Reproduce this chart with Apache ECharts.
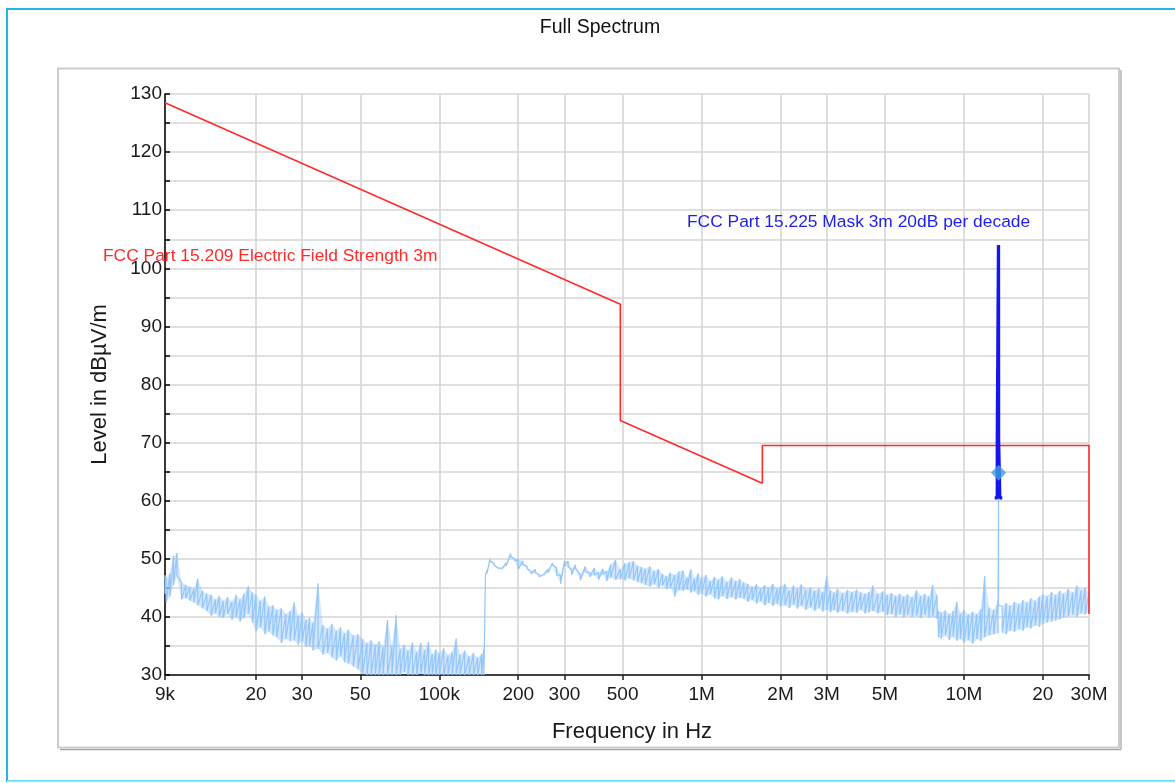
<!DOCTYPE html>
<html>
<head>
<meta charset="utf-8">
<title>Full Spectrum</title>
<script src="https://cdn.jsdelivr.net/npm/echarts@6/dist/echarts.min.js"></script>
<style>
  html, body { margin: 0; padding: 0; background: #ffffff; }
  #chart { width: 1175px; height: 783px; }
</style>
</head>
<body>
<div id="chart"></div>
<script>
// Frequency axis ticks (Hz) and their printed labels
const tickHz = [9e3, 2e4, 3e4, 5e4, 1e5, 2e5, 3e5, 5e5, 1e6, 2e6, 3e6, 5e6, 1e7, 2e7, 3e7];
const tickText = ['9k', '20', '30', '50', '100k', '200', '300', '500', '1M', '2M', '3M', '5M', '10M', '20', '30M'];

// FCC Part 15.209 limit line, 3 m (Hz / dBµV/m)
const limitHz = [9e3, 490e3, 490e3, 1.705e6, 1.705e6, 30e6, 30e6];
const limitDb = [128.5, 93.8, 73.8, 63.0, 69.5, 69.5, 40.5];

// FCC Part 15.225 mask around 13.56 MHz, 3 m (Hz / dBµV/m)
const maskHz = [13.11e6, 13.41e6, 13.41e6, 13.553e6, 13.553e6, 13.567e6, 13.567e6, 13.71e6, 13.71e6, 14.01e6];
const maskDb = [60.5, 60.5, 70.5, 70.5, 104.0, 104.0, 70.5, 70.5, 60.5, 60.5];

// Carrier marker
const markerHz = 13.56e6;
const markerDb = 64.8;

// Measured spectrum: frequency (kHz) with peak / floor level of each bin (dBµV/m)
const specKHz = [
  9.0, 9.1, 9.4, 9.7,
  10, 10.4, 10.8, 11.2, 11.6, 12, 12.5, 13, 13.5, 14, 14.5, 15, 15.6, 16.2, 16.8, 17.4, 18, 18.7, 19.4, 20,
  20.8, 21.6, 22.4, 23.2, 24, 25, 26, 27, 28, 29, 30,
  31, 32, 33, 34.5, 36, 37.5, 39, 40.5, 42, 43.5, 45, 47, 49,
  51, 53, 55, 57, 59, 61, 63.5, 66, 68.5, 71, 73.5, 76, 79, 82, 85, 88, 91, 94, 97,
  100, 104, 108, 112, 116, 120, 125, 130, 135, 140, 145, 148,
  150, 152, 156, 162, 168, 174, 180, 187, 194,
  200, 208, 216, 224, 232, 240, 250, 260, 270, 280, 290,
  300, 310, 320, 330, 345, 360, 375, 390, 405, 420, 435, 450, 470, 490,
  510, 530, 550, 570, 590, 610, 635, 660, 685, 710, 735, 760, 790, 820, 850, 880, 910, 940, 970,
  1000, 1040, 1080, 1120, 1160, 1200, 1250, 1300, 1350, 1400, 1450, 1500, 1560, 1620, 1680, 1740, 1800, 1870, 1940,
  2000, 2080, 2160, 2240, 2320, 2400, 2500, 2600, 2700, 2800, 2900,
  3000, 3100, 3200, 3300, 3450, 3600, 3750, 3900, 4050, 4200, 4350, 4500, 4700, 4900,
  5100, 5300, 5500, 5700, 5900, 6100, 6350, 6600, 6850, 7100, 7350, 7600, 7900,
  8000, 8200, 8500, 8800, 9100, 9400, 9700,
  10000, 10400, 10800, 11200, 11600, 12000, 12500, 13000, 13500, 13560, 14000, 14500, 15000, 15600, 16200, 16800, 17400, 18000, 18700, 19400,
  20000, 20800, 21600, 22400, 23200, 24000, 25000, 26000, 27000, 28000, 29000, 30000
];
const specMax = [
  47.2, 46.8, 47.5, 50.5,
  51.0, 46.0, 45.5, 45.2, 44.8, 46.6, 44.5, 44.0, 43.8, 43.0, 43.6, 42.8, 43.4, 42.6, 43.8, 43.0, 44.0, 45.3, 44.2, 43.8,
  42.8, 43.5, 41.8, 42.0, 41.2, 41.5, 40.5, 41.0, 42.5, 40.2, 40.8,
  39.5, 39.8, 39.0, 45.8, 38.6, 38.0, 38.8, 37.6, 38.2, 37.2, 37.8, 36.8, 37.0,
  36.2, 35.5, 36.0, 35.2, 35.8, 34.8, 39.5, 35.0, 40.3, 34.5, 35.2, 34.2, 35.6, 34.0, 35.5, 34.3, 35.7, 33.6, 34.4,
  33.8, 34.6, 33.4, 34.0, 36.3, 33.5, 34.2, 33.2, 33.8, 33.0, 33.6, 34.5,
  47.3, 48.0, 50.0, 49.2, 48.4, 48.4, 49.3, 50.9, 50.0,
  49.9, 49.6, 48.7, 47.8, 48.2, 47.3, 47.3, 48.2, 49.3, 48.5, 47.2,
  49.6, 49.6, 48.2, 49.0, 47.3, 48.7, 47.6, 48.4, 47.6, 48.3, 47.8, 49.0, 49.8, 48.2,
  49.2, 49.4, 49.6, 48.8, 48.6, 48.3, 48.7, 47.9, 48.2, 47.4, 47.0, 47.6, 47.2, 47.8, 48.0, 46.8, 48.2, 46.6, 47.5,
  46.8, 47.2, 46.2, 46.9, 46.4, 47.0, 46.0, 46.8, 46.2, 46.5, 45.9, 45.7, 45.2, 45.6, 44.9, 45.5, 45.0, 45.7, 44.8,
  45.3, 45.7, 44.6, 45.4, 44.8, 45.6, 44.7, 45.0, 44.5, 44.9, 44.3,
  47.0, 44.6, 44.2, 44.8, 44.1, 44.6, 44.3, 44.7, 44.2, 44.0, 44.3, 45.4, 44.0, 44.4,
  43.8, 44.1, 43.6, 44.0, 43.5, 43.9, 43.4, 44.6, 43.6, 44.0, 43.5, 45.5, 43.8,
  41.0, 40.8, 41.1, 40.5, 41.0, 42.6, 40.6,
  41.2, 40.4, 40.9, 40.5, 41.4, 47.0, 41.6, 41.2, 42.8, 64.8, 41.8, 42.4, 41.9, 42.6, 42.2, 42.9, 42.5, 43.2, 42.8, 43.5,
  43.9, 43.6, 44.3, 43.8, 44.5, 44.0, 44.8, 44.2, 45.4, 44.6, 45.0, 44.2
];
const specMin = [
  44.0, 42.5, 43.5, 45.5,
  47.0, 43.0, 43.2, 42.8, 42.5, 42.0, 41.5, 41.0, 40.2, 40.6, 40.0, 39.8, 40.5, 39.5, 40.0, 39.2, 39.8, 40.5, 39.0, 37.5,
  38.2, 37.0, 37.5, 36.8, 36.5, 35.5, 36.2, 35.8, 36.0, 35.2, 35.8,
  34.8, 35.0, 34.2, 34.5, 33.5, 33.8, 33.0, 32.5, 33.2, 32.2, 32.0, 31.5, 31.0,
  30.2, 30.0, 30.0, 30.0, 30.0, 30.0, 30.0, 30.0, 30.0, 30.0, 30.5, 30.0, 30.0, 30.0, 30.2, 30.0, 30.0, 30.0, 30.0,
  30.0, 30.0, 30.0, 30.0, 30.0, 30.0, 30.0, 30.0, 30.0, 30.0, 30.0, 30.0,
  47.3, 47.5, 49.6, 48.8, 48.2, 48.1, 48.8, 50.3, 49.6,
  48.2, 49.0, 48.3, 47.4, 47.6, 46.9, 47.0, 47.6, 48.9, 47.2, 45.7,
  48.8, 48.6, 47.2, 48.3, 46.3, 47.8, 46.9, 47.2, 46.4, 47.4, 46.2, 46.8, 46.4, 46.5,
  46.3, 46.6, 46.3, 46.0, 45.8, 45.5, 45.2, 45.6, 45.0, 45.4, 44.8, 45.0, 43.5, 44.6, 44.5, 44.7, 44.2, 44.4, 43.8,
  44.0, 43.5, 43.9, 43.2, 43.0, 43.6, 43.1, 43.4, 43.0, 43.3, 43.1, 42.6, 42.9, 42.3, 42.7, 42.0, 42.4, 41.9, 42.2,
  41.8, 42.0, 41.5, 42.1, 41.4, 41.9, 41.2, 41.6, 41.0, 41.5, 40.9,
  41.3, 40.8, 41.2, 40.7, 41.0, 40.6, 40.9, 40.7, 41.2, 40.6, 40.8, 41.0, 40.6, 40.9,
  40.3, 40.5, 40.0, 40.4, 39.9, 40.3, 40.0, 40.2, 39.8, 40.3, 39.9, 40.1, 39.7,
  36.5, 36.3, 36.8, 36.0, 36.6, 35.9, 36.2,
  35.6, 36.0, 35.4, 36.2, 35.8, 36.5, 36.8, 37.0, 37.2, 42.0, 37.3, 37.0, 37.6, 37.4, 37.9, 37.6, 38.2, 38.0, 38.5, 38.3,
  38.8, 39.0, 39.2, 39.4, 39.6, 39.9, 40.1, 40.3, 40.0, 40.6, 40.4, 40.8
];

// The frequency axis is a decade scale: positions are log10(Hz)
const lg = Math.log10;
const tickPos = tickHz.map(lg);

const nBins = Math.min(specKHz.length, specMax.length, specMin.length);
const traceData = [];   // sweep trace drawn bin by bin, peak then floor
const bandData = [];    // envelope cells between neighbouring bins: [x0, max0, min0, x1, max1, min1]
for (let i = 0; i < nBins; i++) {
  const x = lg(specKHz[i] * 1e3);
  traceData.push([x, specMax[i]]);
  traceData.push([x, specMin[i]]);
}
for (let i = 0; i + 1 < nBins; i++) {
  // the carrier spike stays a single trace line
  if (specKHz[i] === 13560 || specKHz[i + 1] === 13560) continue;
  bandData.push([lg(specKHz[i] * 1e3), specMax[i], specMin[i],
                 lg(specKHz[i + 1] * 1e3), specMax[i + 1], specMin[i + 1]]);
}
const limitData = limitHz.map((f, i) => [lg(f), limitDb[i]]);
const maskData = maskHz.map((f, i) => [lg(f), maskDb[i]]);

const FONT = '"Liberation Sans", Arial, Helvetica, sans-serif';
const gridColor = '#d6d6d6';
const traceColor = '#94c6fa';

function renderBand(params, api) {
  const p0t = api.coord([api.value(0), api.value(1)]);
  const p0b = api.coord([api.value(0), api.value(2)]);
  const p1t = api.coord([api.value(3), api.value(4)]);
  const p1b = api.coord([api.value(3), api.value(5)]);
  return {
    type: 'polygon',
    shape: { points: [p0t, p1t, p1b, p0b] },
    style: { fill: traceColor, opacity: 0.42 },
    silent: true
  };
}

const chart = echarts.init(document.getElementById('chart'), null, { renderer: 'canvas' });

chart.setOption({
  animation: false,
  backgroundColor: '#ffffff',
  textStyle: { fontFamily: FONT },
  grid: { left: 165, right: 86, top: 94, bottom: 108, containLabel: false },
  xAxis: {
    type: 'value',
    min: lg(9e3),
    max: lg(3e7),
    name: 'Frequency in Hz',
    nameLocation: 'middle',
    nameGap: 46,
    nameTextStyle: { fontSize: 22, color: '#1a1a1a', fontFamily: FONT, padding: [0, 0, 0, 10] },
    axisLine: { show: true, onZero: false, lineStyle: { color: '#404040', width: 2 } },
    axisTick: { show: true, length: 5, customValues: tickPos, lineStyle: { color: '#202020', width: 1.5 } },
    axisLabel: {
      customValues: tickPos,
      margin: 10,
      fontSize: 19,
      color: '#1a1a1a',
      fontFamily: FONT,
      formatter: function (v) {
        for (let i = 0; i < tickPos.length; i++) {
          if (Math.abs(tickPos[i] - v) < 1e-6) return tickText[i];
        }
        return '';
      }
    },
    splitLine: { show: true, lineStyle: { color: gridColor, width: 1.6 } }
  },
  yAxis: {
    type: 'value',
    min: 30,
    max: 130,
    interval: 5,
    name: 'Level in dBµV/m',
    nameLocation: 'middle',
    nameGap: 54,
    nameRotate: 90,
    nameTextStyle: { fontSize: 22, color: '#1a1a1a', fontFamily: FONT },
    axisLine: { show: true, lineStyle: { color: '#000000', width: 1.5 } },
    axisTick: { show: true, inside: true, length: 5, lineStyle: { color: '#000000', width: 1.5 } },
    axisLabel: {
      margin: 3,
      fontSize: 19,
      color: '#1a1a1a',
      fontFamily: FONT,
      formatter: function (v) { return v % 10 === 0 ? String(v) : ''; }
    },
    splitLine: { show: true, lineStyle: { color: gridColor, width: 1.6 } }
  },
  series: [
    {
      name: 'Envelope',
      type: 'custom',
      renderItem: renderBand,
      data: bandData,
      encode: { x: [0, 3], y: [1, 2, 4, 5] },
      clip: true,
      silent: true,
      z: 1
    },
    {
      name: 'Spectrum',
      type: 'line',
      data: traceData,
      showSymbol: false,
      sampling: false,
      lineStyle: { color: traceColor, width: 1.2 },
      z: 2
    },
    {
      name: 'FCC Part 15.209 Electric Field Strength 3m',
      type: 'line',
      data: limitData,
      showSymbol: false,
      lineStyle: { color: '#ff2b2b', width: 1.6 },
      z: 3
    },
    {
      name: 'FCC Part 15.225 Mask 3m 20dB per decade',
      type: 'line',
      data: maskData,
      showSymbol: false,
      lineStyle: { color: '#1515ee', width: 3.3 },
      z: 4
    },
    {
      name: 'Marker',
      type: 'scatter',
      data: [[lg(markerHz), markerDb]],
      symbol: 'diamond',
      symbolSize: [15, 16],
      itemStyle: { color: '#3c9de2' },
      z: 5
    }
  ],
  graphic: [
    // outer window frame
    { type: 'rect', silent: true, z: -10,
      shape: { x: 7, y: 9, width: 1180, height: 772 },
      style: { fill: 'none', stroke: '#21b4ea', lineWidth: 2 } },
    { type: 'line', silent: true, z: -9,
      shape: { x1: 7, y1: 781.5, x2: 1175, y2: 781.5 },
      style: { stroke: '#b8eafb', lineWidth: 2 } },
    // chart panel with its shadow
    { type: 'line', silent: true, z: -9,
      shape: { x1: 60, y1: 749.5, x2: 1121, y2: 749.5 },
      style: { stroke: '#a6a6a6', lineWidth: 1.5 } },
    { type: 'line', silent: true, z: -9,
      shape: { x1: 1121, y1: 70, x2: 1121, y2: 749.5 },
      style: { stroke: '#b4b4b4', lineWidth: 1.5 } },
    { type: 'rect', silent: true, z: -8,
      shape: { x: 58, y: 68.5, width: 1061, height: 679 },
      style: { fill: 'none', stroke: '#cdcdcd', lineWidth: 2 } },
    // title
    { type: 'text', silent: true, z: 10,
      style: { x: 600, y: 27.5, text: 'Full Spectrum', fill: '#111111',
               font: '19.5px ' + FONT, textAlign: 'center', textVerticalAlign: 'middle' } },
    // limit captions
    { type: 'text', silent: true, z: 10,
      style: { x: 103, y: 256, text: 'FCC Part 15.209 Electric Field Strength 3m', fill: '#ff2b2b',
               font: '17.4px ' + FONT, textAlign: 'left', textVerticalAlign: 'middle' } },
    { type: 'text', silent: true, z: 10,
      style: { x: 687, y: 222, text: 'FCC Part 15.225 Mask 3m 20dB per decade', fill: '#1e1ef0',
               font: '17.4px ' + FONT, textAlign: 'left', textVerticalAlign: 'middle' } }
  ]
});
</script>
</body>
</html>
